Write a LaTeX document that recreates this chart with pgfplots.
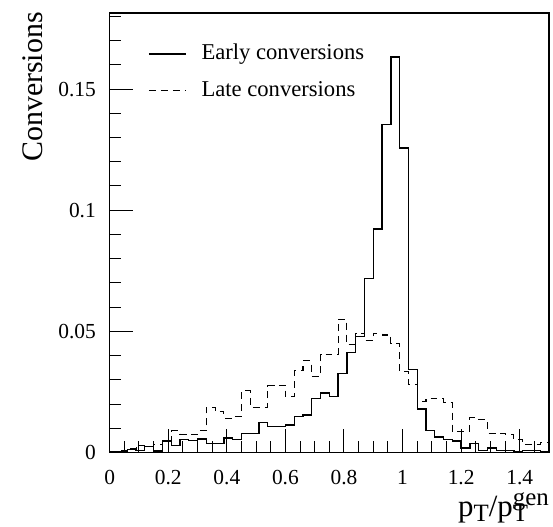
\documentclass[border=0pt]{standalone}
\usepackage{pgfplots}
\usepackage{pgfplotstable}
\pgfplotsset{compat=1.18}
\usepackage{fontspec}
\setmainfont{Liberation Serif}
\newcommand{\scr}[1]{{\fontsize{25}{25}\selectfont #1}}

\pgfplotstableread{
x y
0.00 0.0004
0.03 0.0002
0.06 0.0011
0.09 0.0008
0.12 0.0024
0.15 0.0006
0.18 0.0048
0.21 0.0028
0.24 0.0054
0.27 0.0050
0.30 0.0056
0.33 0.0038
0.36 0.0036
0.39 0.0060
0.42 0.0053
0.45 0.0077
0.48 0.0077
0.51 0.0124
0.54 0.0107
0.57 0.0107
0.60 0.0114
0.63 0.0149
0.66 0.0155
0.69 0.0222
0.72 0.0245
0.75 0.0231
0.78 0.0327
0.81 0.0414
0.84 0.0479
0.87 0.0717
0.90 0.0922
0.93 0.1353
0.96 0.1633
0.99 0.1257
1.02 0.0344
1.05 0.0180
1.08 0.0092
1.11 0.0064
1.14 0.0054
1.17 0.0048
1.20 0.0018
1.23 0.0036
1.26 0.0009
1.29 0.0018
1.32 0.0007
1.35 0.0008
1.38 0.0003
1.41 0.0008
1.44 0.0008
1.47 0.0002
1.50 0.0002
}\early

\pgfplotstableread{
x y
0.00 0.0004
0.03 0.0006
0.06 0.0018
0.09 0.0030
0.12 0.0025
0.15 0.0032
0.18 0.0050
0.21 0.0089
0.24 0.0076
0.27 0.0075
0.30 0.0089
0.33 0.0187
0.36 0.0169
0.39 0.0141
0.42 0.0150
0.45 0.0255
0.48 0.0187
0.51 0.0187
0.54 0.0275
0.57 0.0278
0.60 0.0230
0.63 0.0338
0.66 0.0378
0.69 0.0314
0.72 0.0406
0.75 0.0405
0.78 0.0550
0.81 0.0444
0.84 0.0492
0.87 0.0462
0.90 0.0492
0.93 0.0485
0.96 0.0451
0.99 0.0334
1.02 0.0282
1.05 0.0210
1.08 0.0224
1.11 0.0222
1.14 0.0207
1.17 0.0087
1.20 0.0087
1.23 0.0143
1.26 0.0135
1.29 0.0080
1.32 0.0079
1.35 0.0075
1.38 0.0054
1.41 0.0032
1.44 0.0032
1.47 0.0040
1.50 0.0040
}\late

\begin{document}
\begin{tikzpicture}
\begin{axis}[
  width=439.3bp, height=439.5bp, scale only axis,
  xmin=0, xmax=1.5, ymin=0, ymax=0.1814,
  axis line style={line width=1.3bp},
  tick align=inside, xtick pos=bottom, ytick pos=left,
  major tick length=23bp, minor tick length=11bp,
  every tick/.style={black, line width=1bp},
  xtick={0,0.2,0.4,0.6,0.8,1,1.2,1.4},
  xticklabels={0,0.2,0.4,0.6,0.8,1,1.2,1.4},
  minor xtick={0.05,0.1,0.15,0.25,0.3,0.35,0.45,0.5,0.55,0.65,0.7,0.75,0.85,0.9,0.95,1.05,1.1,1.15,1.25,1.3,1.35,1.45},
  ytick={0,0.05,0.1,0.15},
  yticklabels={0,0.05,0.1,0.15},
  minor ytick={0.01,0.02,0.03,0.04,0.06,0.07,0.08,0.09,0.11,0.12,0.13,0.14,0.16,0.17,0.18},
  ticklabel style={font=\fontsize{21.5}{24}\selectfont},
  xticklabel style={inner sep=0pt, anchor=north, yshift=-18bp},
  yticklabel style={inner sep=0pt, anchor=east, xshift=-13.7bp},
  xlabel={p\raisebox{-5bp}{\scr{T}}/p\rlap{\raisebox{-5bp}{\scr{T}}}\raisebox{11bp}{\scr{gen}}},
  xlabel style={at={(axis description cs:1,-0.1445)}, anchor=base east, inner sep=0pt, font=\fontsize{31}{34}\selectfont},
  ylabel={Conversions},
  ylabel style={at={(axis description cs:-0.1541,1.002)}, anchor=base east, inner sep=0pt, font=\fontsize{30}{34}\selectfont},
  legend style={at={(axis description cs:0.0872,0.931)}, anchor=north west, draw=none, fill=none, inner sep=0pt,
    row sep=15.6bp, font=\fontsize{22.7}{26}\selectfont,
    nodes={inner sep=0pt, text height=16bp, text depth=5bp},
    /tikz/every odd column/.append style={column sep=15bp}},
  legend cell align=left,
  legend image code/.code={\draw[#1] (0bp,0bp) -- (37bp,0bp);},
]
\addplot[const plot mark left, black, line width=1.3bp] table[x=x,y=y] {\early};
\addlegendentry{Early conversions}
\addplot[const plot mark left, black, line width=1.1bp, dash pattern=on 7bp off 5bp] table[x=x,y=y] {\late};
\addlegendentry{Late conversions}
\end{axis}
\pgfresetboundingbox
\path ([shift={(-109.7bp,-74.5bp)}]current axis.south west) rectangle ([shift={(4bp,13bp)}]current axis.north east);
\end{tikzpicture}
\end{document}
